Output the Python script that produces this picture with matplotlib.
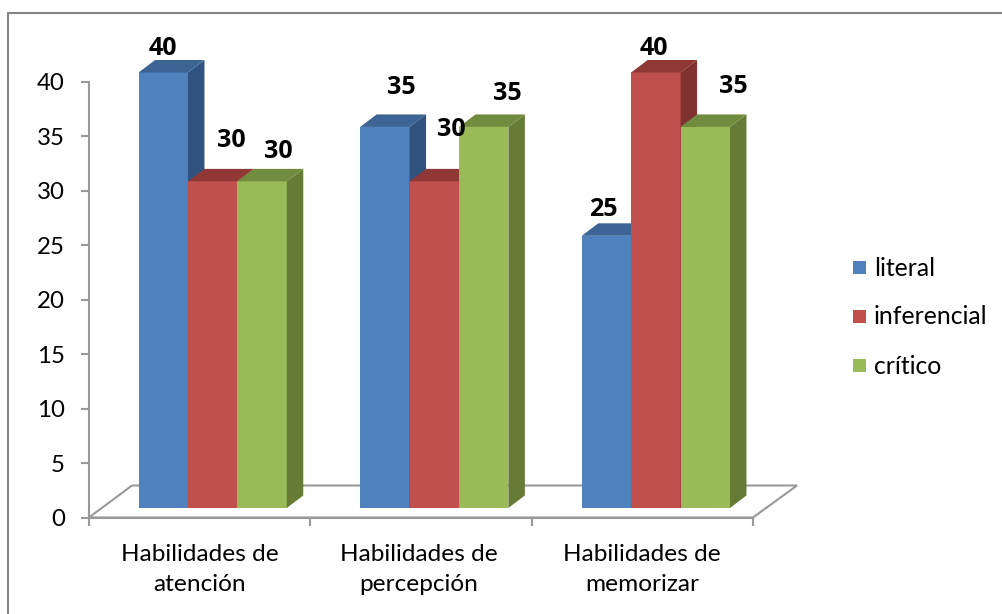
import numpy as np
import matplotlib
matplotlib.use("Agg")
import matplotlib.pyplot as plt
from matplotlib.patches import Polygon, Rectangle

plt.rcParams['font.family'] = ['Lato', 'DejaVu Sans']

categories = ["Habilidades de\natención", "Habilidades de\npercepción", "Habilidades de\nmemorizar"]
series_names = ["literal", "inferencial", "crítico"]
literal = [40, 35, 25]
inferencial = [30, 30, 40]
critico = [30, 35, 35]
yticks = [0, 5, 10, 15, 20, 25, 30, 35, 40]

front = ["#4F81BD", "#C0504D", "#9BBB59"]
side = ["#30527E", "#7F3230", "#667C36"]
top = ["#3C6595", "#8F3836", "#728C3F"]
gray = "#999999"
# label shift from the bar's top centre, pixels (placed by hand in the original)
label_shift = [[(0, 24), (19, 41), (16, 30)],
               [(16, 39), (17, 52), (24, 33)],
               [(-3, 26), (-2, 24), (28, 40)]]

W, H = 1002, 614
fig = plt.figure(figsize=(W / 100, H / 100), dpi=100, facecolor="white")
# chart frame runs off the right and bottom of the picture
fig.add_artist(Rectangle((8 / W, 1 - 640 / H), 1100 / W, 627 / H, transform=fig.transFigure,
                         fill=False, ec="#868686", lw=1.5))

# axes box in pixels: x 89..753, y 82..517.5
ax = fig.add_axes([89 / W, 1 - 517.5 / H, 664 / W, 435.5 / H])
ax.set_xlim(-0.5, 2.5)
ax.set_ylim(0, 40)
ax.patch.set_visible(False)
px = 3 / 664        # one pixel in x data units
py = 40 / 435.5     # one pixel in y data units

# floor
floor = [(-0.5, 0), (-0.5 + 43 * px, 32 * py), (2.5 + 44 * px, 32 * py), (2.5, 0)]
ax.add_patch(Polygon(floor, closed=True, fill=False, ec=gray, lw=1.5, clip_on=False, zorder=1))

width = 49.4 * px
base = 9.5 * py
depth_x = 16.5 * px
depth_y = 12.5 * py
group_shift = 13 * px
group_step = 221.6 * px
values = [literal, inferencial, critico]

for s, vals in enumerate(values):
    for c, v in enumerate(vals):
        x0 = c * group_step + group_shift + (s - 1.5) * width
        z = 3 + c * 3 + s
        t = base + v
        ax.bar(x0, v, width=width, bottom=base, align="edge", color=front[s], zorder=z, clip_on=False)
        ax.add_patch(Polygon([(x0 + width, base), (x0 + width + depth_x, base + depth_y),
                              (x0 + width + depth_x, t + depth_y), (x0 + width, t)],
                             fc=side[s], ec="none", zorder=z, clip_on=False))
        ax.add_patch(Polygon([(x0, t), (x0 + depth_x, t + depth_y),
                              (x0 + width + depth_x, t + depth_y), (x0 + width, t)],
                             fc=top[s], ec="none", zorder=z, clip_on=False))
        ax.annotate(str(v), (x0 + width / 2, t), xytext=label_shift[c][s], textcoords="offset pixels",
                    ha="center", va="center", fontsize=18, fontweight="bold", color="black",
                    family=["Open Sans", "DejaVu Sans"], annotation_clip=False, zorder=30)

for name in ["top", "right"]:
    ax.spines[name].set_visible(False)
for name in ["left", "bottom"]:
    ax.spines[name].set_color(gray)
    ax.spines[name].set_linewidth(1.5)

ax.set_yticks(yticks)
ax.set_xticks([-0.5, 0.5, 1.5, 2.5])
ax.set_xticklabels([])
ax.tick_params(axis="both", color=gray, width=1.5, length=5.5)
ax.tick_params(axis="y", labelsize=17.3, pad=12)

for i, label in enumerate(categories):
    shift = [(0, -52), (-2, -52), (0, -52)][i]
    ax.annotate(label, (i, 0), xytext=shift, textcoords="offset pixels", ha="center", va="center",
                fontsize=17.6, linespacing=1.55, annotation_clip=False)

# legend
for s, name in enumerate(series_names):
    y = 1 - (268 + s * 49) / H
    fig.add_artist(Rectangle((853 / W, y - 6 / H), 13 / W, 13 / H, transform=fig.transFigure,
                             fc=front[s], ec="none"))
    fig.text(874 / W, y, name, fontsize=17.8, va="center", ha="left")

fig.savefig("out.png", dpi=100)
